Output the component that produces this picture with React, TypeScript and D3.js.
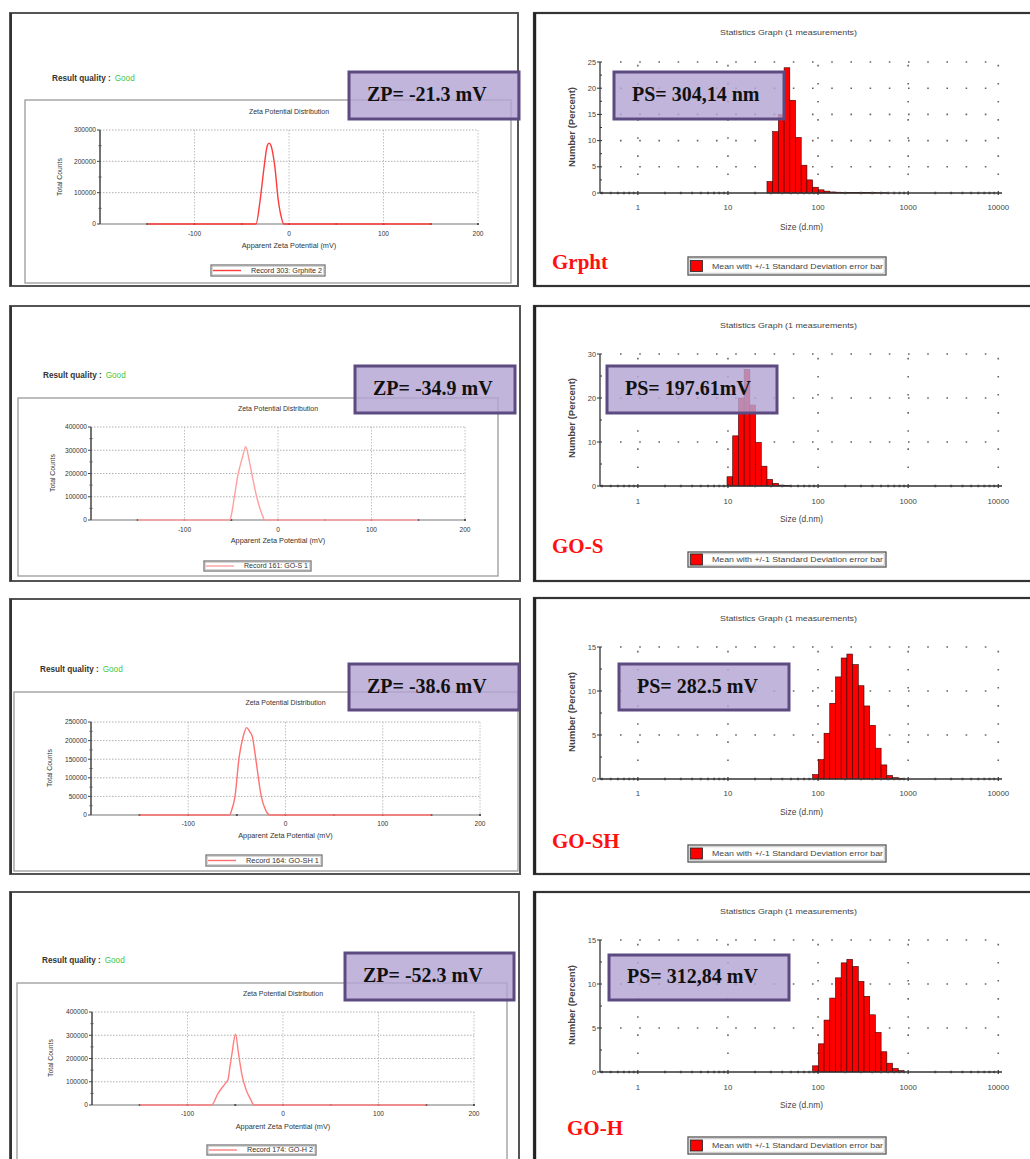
import React from 'react';
import * as d3 from 'd3';

// ---------------- data ----------------
const SAMPLE_NAMES = ['Grpht', 'GO-S', 'GO-SH', 'GO-H'];
const ZP_TEXTS = ['ZP= -21.3 mV', 'ZP= -34.9 mV', 'ZP= -38.6 mV', 'ZP= -52.3 mV'];
const PS_TEXTS = ['PS= 304,14 nm', 'PS= 197.61mV', 'PS= 282.5 mV', 'PS= 312,84 mV'];
const ZP_LEGENDS = ['Record 303: Grphite 2', 'Record 161: GO-S 1', 'Record 164: GO-SH 1', 'Record 174: GO-H 2'];
const ZP_LINE_COLORS = ['#ff3b3b', '#ffa0a0', '#ff7070', '#ff7f7f'];

const ZETA_X_DOMAIN = [-200, 200];
const ZETA_X_TICKS = [-100, 0, 100, 200];
const ZETA_X_MINOR = [-150, -50, 50, 150];
const ZETA_Y_MAX = [300000, 400000, 250000, 400000];
const ZETA_Y_STEP = [100000, 100000, 50000, 100000];

const ZETA_GRPHT_MV = [-150, -35, -30.5, -26.3, -23, -21, -19, -15, -11.4, -8, -5.6, 150];
const ZETA_GRPHT_COUNTS = [0, 0, 77000, 183000, 250000, 258000, 250000, 183000, 77000, 20000, 0, 0];
const ZETA_GOS_MV = [-150, -51.5, -49.5, -46.7, -42.5, -38, -34.5, -31, -28.1, -22.8, -17.5, -14, 150];
const ZETA_GOS_COUNTS = [0, 0, 29000, 100000, 200000, 270000, 315000, 260000, 200000, 100000, 29000, 0, 0];
const ZETA_GOSH_MV = [-150, -57.5, -55.4, -52, -47.6, -43.6, -40, -37, -34, -30.9, -24.8, -20.4, -16, 150];
const ZETA_GOSH_COUNTS = [0, 0, 13000, 49000, 157000, 210000, 235000, 225000, 210000, 157000, 49000, 13000, 0, 0];
const ZETA_GOH_MV = [-150, -75, -68, -61, -57.6, -55.5, -53.4, -49.7, -46.6, -43, -38.5, -34, -30.5, 150];
const ZETA_GOH_COUNTS = [0, 0, 50000, 90000, 110000, 165000, 222000, 304000, 222000, 130000, 64000, 25000, 0, 0];
const ZETA_MV = [ZETA_GRPHT_MV, ZETA_GOS_MV, ZETA_GOSH_MV, ZETA_GOH_MV];
const ZETA_COUNTS = [ZETA_GRPHT_COUNTS, ZETA_GOS_COUNTS, ZETA_GOSH_COUNTS, ZETA_GOH_COUNTS];

// size classes (lower bin edges, nm)
const SIZE_BIN_EDGES = [9.76, 11.29, 13.07, 15.12, 17.5, 20.24, 23.42, 27.1, 31.35, 36.27, 41.97, 48.56,
  56.18, 65.0, 75.2, 87.0, 100.7, 116.5, 134.8, 156.0, 180.5, 208.8, 241.6, 279.5, 323.4, 374.2, 432.9,
  500.9, 579.5, 670.5, 775.8, 897.6, 1038.5, 1201.6, 1390.2];
const SIZE_X_DOMAIN = [0.38, 11000];
const SIZE_TICKS = [1, 10, 100, 1000, 10000];
const SIZE_Y_MAX = [25, 30, 15, 15];
const SIZE_Y_STEP = [5, 10, 5, 5];
const SIZE_GRPHT_START = 7;
const SIZE_GRPHT_PCT = [2.2, 11.7, 15, 23.9, 17.7, 10.6, 5.3, 2.5, 1.1, 0.6, 0.35, 0.2, 0.15, 0.12, 0.1, 0.1, 0.1, 0.08, 0.06, 0.05, 0.05];
const SIZE_GOS_START = 0;
const SIZE_GOS_PCT = [2.1, 11.4, 20, 26.5, 18.4, 9.9, 4.5, 1.5, 0.6, 0.2, 0.1];
const SIZE_GOSH_START = 15;
const SIZE_GOSH_PCT = [0.5, 2.2, 5.2, 8.6, 11.6, 13.75, 14.2, 13.0, 10.6, 8.3, 6.1, 3.5, 1.6, 0.4, 0.15, 0.05];
const SIZE_GOH_START = 15;
const SIZE_GOH_PCT = [0.7, 3.2, 5.9, 8.4, 10.7, 12.4, 12.8, 12.0, 10.3, 8.6, 6.5, 4.5, 2.3, 1.0, 0.4, 0.15];
const SIZE_STARTS = [SIZE_GRPHT_START, SIZE_GOS_START, SIZE_GOSH_START, SIZE_GOH_START];
const SIZE_PCTS = [SIZE_GRPHT_PCT, SIZE_GOS_PCT, SIZE_GOSH_PCT, SIZE_GOH_PCT];

// ---------------- layout ----------------
const ZP_LAYOUTS = [
  { frame: [10, 13, 518, 286], rq: [52, 81], inner: [25, 100, 511, 283], plot: [100, 130, 478, 224], title: 113.5, tick: 235.5, xlab: 248, legend: [211, 265, 325, 276], box: [349, 72, 519, 119], ylab: [62, 177] },
  { frame: [10, 306, 520, 581], rq: [43, 378], inner: [18, 398, 498, 576], plot: [91, 427, 465, 520], title: 410.5, tick: 531.5, xlab: 542.5, legend: [204, 561, 311, 571], box: [355, 366, 515, 413], ylab: [55, 473] },
  { frame: [10, 599, 520, 874], rq: [40, 672], inner: [14, 692, 518, 871], plot: [91, 722, 480, 815], title: 704.5, tick: 825.5, xlab: 837.5, legend: [206, 855, 322, 866], box: [349, 664, 519, 710], ylab: [52, 768] },
  { frame: [10, 892, 519, 1175], rq: [42, 963], inner: [17, 983, 507, 1175], plot: [92, 1012, 474, 1105], title: 995.5, tick: 1115.5, xlab: 1128.5, legend: [207, 1145, 316, 1155], box: [345, 953, 514, 1000], ylab: [53, 1058] },
];
const PS_LAYOUTS = [
  { frame: [534, 13, 1045, 286], title: 34.5, plot: [600, 62, 1002, 193], tick: 209.5, xlab: 229.5, name: [552, 269], legend: [688, 257, 886, 275], box: [614, 72, 784, 119], ylab: [575, 127] },
  { frame: [534, 306, 1045, 581], title: 327.5, plot: [600, 354, 1002, 486], tick: 503.5, xlab: 521.5, name: [552, 553], legend: [688, 552, 886, 567], box: [607, 366, 777, 413], ylab: [575, 418] },
  { frame: [534, 598, 1045, 874], title: 620.5, plot: [600, 647, 1002, 779], tick: 795.5, xlab: 814.5, name: [552, 848], legend: [688, 845, 886, 862], box: [619, 664, 789, 710], ylab: [575, 712] },
  { frame: [534, 892, 1045, 1175], title: 913.5, plot: [600, 940, 1002, 1072], tick: 1089.5, xlab: 1107.5, name: [567, 1135], legend: [688, 1137, 886, 1154], box: [609, 955, 789, 1000], ylab: [575, 1005] },
];

const SANS = "'Liberation Sans', Arial, sans-serif";
const SERIF = "'Liberation Serif', 'Times New Roman', serif";
const BOX_FILL = '#b3a5d3';
const BOX_STROKE = '#5d4a80';

function LabelBox({ box, text }: { box: number[]; text: string }) {
  const [x0, y0, x1, y1] = box;
  return (
    <g>
      <rect x={x0} y={y0} width={x1 - x0} height={y1 - y0} fill={BOX_FILL} fillOpacity={0.82} stroke={BOX_STROKE} strokeWidth={3} />
      <text x={x0 + 18} y={(y0 + y1) / 2 + 5.5} fontFamily={SERIF} fontWeight="bold" fontSize={20} fill="#111">{text}</text>
    </g>
  );
}

function ZetaPanel({ i }: { i: number }) {
  const L = ZP_LAYOUTS[i];
  const [px0, py0, px1, py1] = L.plot;
  const x = d3.scaleLinear().domain(ZETA_X_DOMAIN).range([px0, px1]);
  const y = d3.scaleLinear().domain([0, ZETA_Y_MAX[i]]).range([py1, py0]);
  const yTicks = d3.range(0, ZETA_Y_MAX[i] + 1, ZETA_Y_STEP[i]);
  const yMinor = d3.range(ZETA_Y_STEP[i] / 2, ZETA_Y_MAX[i], ZETA_Y_STEP[i]);
  const pts: [number, number][] = ZETA_MV[i].map((v, k) => [v, ZETA_COUNTS[i][k]]);
  const line = d3.line<[number, number]>().x(d => x(d[0])).y(d => y(d[1])).curve(d3.curveMonotoneX);
  const [fx0, fy0, fx1, fy1] = L.frame;
  const [ix0, iy0, ix1, iy1] = L.inner;
  const [lx0, ly0, lx1, ly1] = L.legend;
  const cx = x(0);
  return (
    <g>
      <rect x={fx0} y={fy0} width={fx1 - fx0} height={fy1 - fy0} fill="#fff" stroke="#555" strokeWidth={2} />
      <line x1={fx0 + 1} y1={fy0} x2={fx0 + 1} y2={fy1} stroke="#333" strokeWidth={2} />
      <text x={L.rq[0]} y={L.rq[1]} fontFamily={SANS} fontSize={8.2} fontWeight="bold" fill="#333">
        Result quality :<tspan fill="#3fc73f" fontWeight="normal" dx={4}>Good</tspan>
      </text>
      <rect x={ix0} y={iy0} width={ix1 - ix0} height={iy1 - iy0} fill="none" stroke="#9a9a9a" strokeWidth={1.3} />
      <text x={(px0 + px1) / 2} y={L.title} textAnchor="middle" fontFamily={SANS} fontSize={7} fill="#333">Zeta Potential Distribution</text>
      {/* grid */}
      {yTicks.filter(t => t > 0).map(t => (
        <line key={'gy' + t} x1={px0} x2={px1} y1={y(t)} y2={y(t)} stroke="#b0b0b0" strokeWidth={1} strokeDasharray="1.5 1.5" />
      ))}
      {ZETA_X_TICKS.map(t => (
        <line key={'gx' + t} x1={x(t)} x2={x(t)} y1={py0} y2={py1} stroke="#c0c0c0" strokeWidth={1} strokeDasharray="1.5 1.5" />
      ))}
      {/* axes */}
      <line x1={px0} x2={px1} y1={py1} y2={py1} stroke="#777" strokeWidth={1.2} />
      <line x1={px0} x2={px0} y1={py0} y2={py1} stroke="#444" strokeWidth={1.5} />
      {yTicks.map(t => (
        <g key={'yt' + t}>
          <line x1={px0 - 3} x2={px0} y1={y(t)} y2={y(t)} stroke="#444" strokeWidth={1} />
          <text x={px0 - 4} y={y(t) + 2.3} textAnchor="end" fontFamily={SANS} fontSize={6.6} fill="#333">{t}</text>
        </g>
      ))}
      {yMinor.map(t => (
        <line key={'ym' + t} x1={px0 - 1.5} x2={px0 + 1.5} y1={y(t)} y2={y(t)} stroke="#555" strokeWidth={1} />
      ))}
      {ZETA_X_TICKS.concat(ZETA_X_MINOR).map(t => (
        <rect key={'xt' + t} x={x(t) - 1} y={py1 - 1} width={2} height={2} fill="#555" />
      ))}
      {ZETA_X_TICKS.map(t => (
        <text key={'xl' + t} x={x(t)} y={L.tick} textAnchor="middle" fontFamily={SANS} fontSize={6.6} fill="#333">{t}</text>
      ))}
      <text x={cx} y={L.xlab} textAnchor="middle" fontFamily={SANS} fontSize={7.3} fill="#333">Apparent Zeta Potential (mV)</text>
      <text transform={`translate(${L.ylab[0]},${L.ylab[1]}) rotate(-90)`} textAnchor="middle" fontFamily={SANS} fontSize={6.8} fill="#333">Total Counts</text>
      {/* curve */}
      <path d={line(pts) || ''} fill="none" stroke={ZP_LINE_COLORS[i]} strokeWidth={1.4} />
      {/* legend */}
      <rect x={lx0} y={ly0} width={lx1 - lx0} height={ly1 - ly0} fill="#fff" stroke="#777" strokeWidth={1.3} />
      <rect x={lx0 + 1.5} y={ly0 + 1.5} width={lx1 - lx0 - 3} height={ly1 - ly0 - 3} fill="none" stroke="#bbb" strokeWidth={0.6} />
      <line x1={lx0 + 2} x2={lx0 + 30} y1={(ly0 + ly1) / 2} y2={(ly0 + ly1) / 2} stroke={ZP_LINE_COLORS[i]} strokeWidth={1.4} />
      <text x={lx0 + 40} y={(ly0 + ly1) / 2 + 2.3} fontFamily={SANS} fontSize={6.4} fill="#333" textLength={lx1 - lx0 - 43} lengthAdjust="spacingAndGlyphs">{ZP_LEGENDS[i]}</text>
      <LabelBox box={L.box} text={ZP_TEXTS[i]} />
    </g>
  );
}

function SizePanel({ i }: { i: number }) {
  const L = PS_LAYOUTS[i];
  const [px0, py0, px1, py1] = L.plot;
  const x = d3.scaleLog().domain(SIZE_X_DOMAIN).range([px0, px1]);
  const y = d3.scaleLinear().domain([0, SIZE_Y_MAX[i]]).range([py1, py0]);
  const yTicks = d3.range(0, SIZE_Y_MAX[i] + 0.001, SIZE_Y_STEP[i]);
  const yMinor = d3.range(SIZE_Y_STEP[i] / 2, SIZE_Y_MAX[i], SIZE_Y_STEP[i]);
  const minorX: number[] = [];
  SIZE_TICKS.forEach(d => [2, 3, 4, 5, 6, 7, 8, 9].forEach(m => { if (d * m < SIZE_X_DOMAIN[1]) minorX.push(d * m); }));
  [0.4, 0.5, 0.6, 0.7, 0.8, 0.9].forEach(v => minorX.push(v));
  const start = SIZE_STARTS[i];
  const vals = SIZE_PCTS[i];
  const [fx0, fy0, fx1, fy1] = L.frame;
  const [lx0, ly0, lx1, ly1] = L.legend;
  return (
    <g>
      <rect x={fx0} y={fy0} width={fx1 - fx0} height={fy1 - fy0} fill="#fff" stroke="#333" strokeWidth={2.2} />
      <line x1={fx0 + 1} y1={fy0} x2={fx0 + 1} y2={fy1} stroke="#222" strokeWidth={2.4} />
      <text x={720} y={L.title} fontFamily={SANS} fontSize={8} fill="#444" textLength={137} lengthAdjust="spacingAndGlyphs">Statistics Graph (1 measurements)</text>
      {/* dotted grid */}
      {yTicks.filter(t => t > 0).map(t => (
        <line key={'gy' + t} x1={px0 + 20} x2={px1} y1={y(t)} y2={y(t)} stroke="#666" strokeWidth={1.6} strokeDasharray="1.6 17.6" />
      ))}
      {SIZE_TICKS.map(t => (
        <line key={'gx' + t} x1={x(t)} x2={x(t)} y1={py1 - 18} y2={py0} stroke="#666" strokeWidth={1.6} strokeDasharray="1.6 16.5" />
      ))}
      {/* bars */}
      {vals.map((v, k) => {
        const a = x(SIZE_BIN_EDGES[start + k]);
        const b = x(SIZE_BIN_EDGES[start + k + 1]);
        return <rect key={'b' + k} x={a} y={y(v)} width={b - a} height={y(0) - y(v)} fill="#ff0000" stroke="#3a0000" strokeWidth={0.6} />;
      })}
      {/* axes */}
      <line x1={px0} x2={px1} y1={py1} y2={py1} stroke="#333" strokeWidth={1.3} />
      <line x1={px0} x2={px0} y1={py0} y2={py1} stroke="#333" strokeWidth={1.3} />
      {yTicks.map(t => (
        <g key={'yt' + t}>
          <line x1={px0 - 3} x2={px0 + 2} y1={y(t)} y2={y(t)} stroke="#333" strokeWidth={1} />
          <text x={px0 - 4} y={y(t) + 2.6} textAnchor="end" fontFamily={SANS} fontSize={7.4} fill="#444">{t}</text>
        </g>
      ))}
      {yMinor.map(t => (
        <line key={'ym' + t} x1={px0} x2={px0 + 2} y1={y(t)} y2={y(t)} stroke="#333" strokeWidth={1} />
      ))}
      {minorX.map(t => (
        <rect key={'xm' + t} x={x(t) - 1} y={py1 - 1.2} width={2} height={2.4} fill="#444" />
      ))}
      {SIZE_TICKS.map(t => (
        <g key={'xt' + t}>
          <line x1={x(t)} x2={x(t)} y1={py1 - 2} y2={py1 + 2} stroke="#333" strokeWidth={1.2} />
          <text x={x(t)} y={L.tick} textAnchor="middle" fontFamily={SANS} fontSize={7.8} fill="#444">{t}</text>
        </g>
      ))}
      <text x={780} y={L.xlab} fontFamily={SANS} fontSize={8.2} fill="#444" textLength={43} lengthAdjust="spacingAndGlyphs">Size (d.nm)</text>
      <text transform={`translate(${L.ylab[0]},${L.ylab[1]}) rotate(-90)`} textAnchor="middle" fontFamily={SANS} fontSize={8.5} fontWeight="bold" fill="#444" textLength={80} lengthAdjust="spacingAndGlyphs">Number (Percent)</text>
      {/* sample name */}
      <text x={L.name[0]} y={L.name[1]} fontFamily={SERIF} fontWeight="bold" fontSize={21} fill="#ff1010">{SAMPLE_NAMES[i]}</text>
      {/* legend */}
      <rect x={lx0} y={ly0} width={lx1 - lx0} height={ly1 - ly0} fill="#fff" stroke="#555" strokeWidth={1.3} />
      <rect x={lx0 + 1.8} y={ly0 + 1.8} width={lx1 - lx0 - 3.6} height={ly1 - ly0 - 3.6} fill="none" stroke="#aaa" strokeWidth={0.7} />
      <rect x={lx0 + 2.5} y={(ly0 + ly1) / 2 - 5.5} width={12} height={11} fill="#ff0000" stroke="#222" strokeWidth={0.8} />
      <text x={lx0 + 24} y={(ly0 + ly1) / 2 + 2.7} fontFamily={SANS} fontSize={7.6} fill="#444" textLength={lx1 - lx0 - 27} lengthAdjust="spacingAndGlyphs">Mean with +/-1 Standard Deviation error bar</text>
      <LabelBox box={L.box} text={PS_TEXTS[i]} />
    </g>
  );
}

export default function App() {
  return (
    <div style={{ position: 'absolute', left: 0, top: 0, width: 1030, height: 1159, overflow: 'hidden', background: '#fff' }}>
      <svg width={1030} height={1159} viewBox="0 0 1030 1159" style={{ display: 'block' }}>
        <rect x={0} y={0} width={1030} height={1159} fill="#fff" />
        {[0, 1, 2, 3].map(i => <ZetaPanel key={'z' + i} i={i} />)}
        {[0, 1, 2, 3].map(i => <SizePanel key={'s' + i} i={i} />)}
      </svg>
    </div>
  );
}
